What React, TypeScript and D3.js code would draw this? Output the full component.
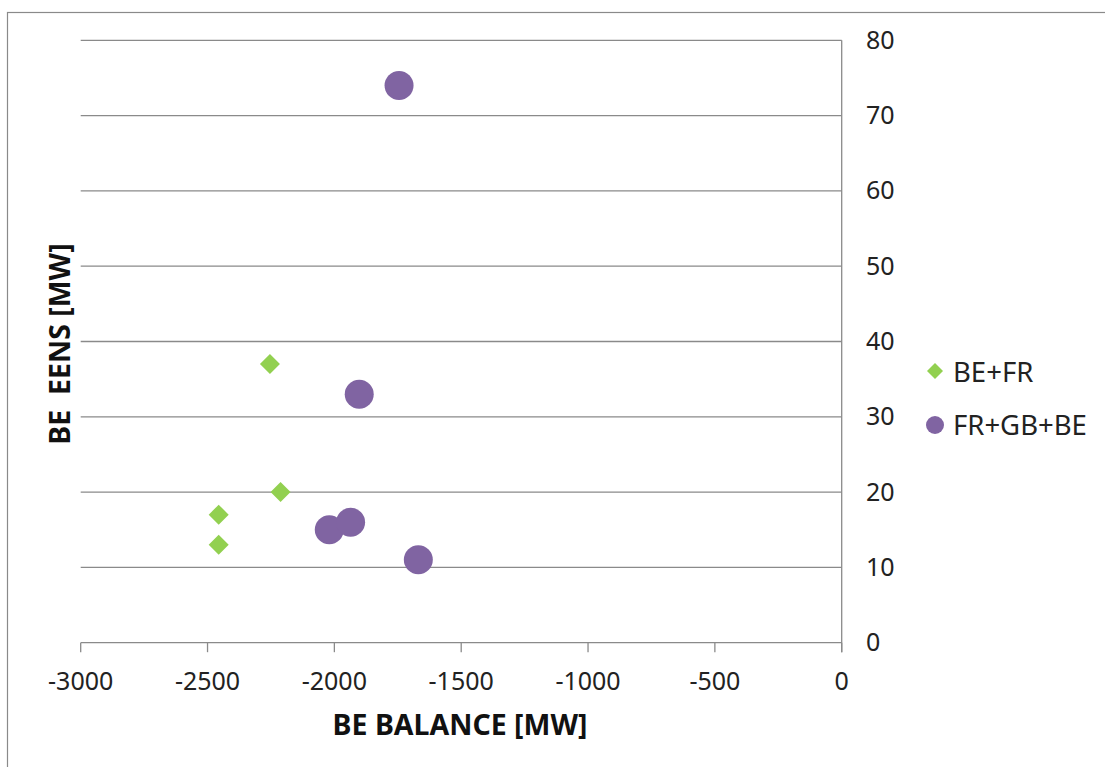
import React from "react";
import * as d3 from "d3";

const xTicks = [-3000, -2500, -2000, -1500, -1000, -500, 0];
const yTicks = [0, 10, 20, 30, 40, 50, 60, 70, 80];

const beFrX = [-2254, -2212, -2456, -2456];
const beFrY = [37, 20, 17, 13];

const frGbBeX = [-1745, -1902, -2020, -1936, -1669];
const frGbBeY = [74, 33, 15, 16, 11];

const seriesNames = ["BE+FR", "FR+GB+BE"];
const seriesColors = ["#92D050", "#8064A2"];

const W = 1105;
const H = 767;
const FONT = "'Noto Sans', sans-serif";

export default function App() {
  const x = d3.scaleLinear().domain([-3000, 0]).range([80.7, 841.7]);
  const y = d3.scaleLinear().domain([0, 80]).range([642.7, 40.3]);

  const diamond = d3.symbol().type(d3.symbolSquare).size(200)() as string;
  const diamondLegend = d3.symbol().type(d3.symbolSquare).size(128)() as string;
  const circle = d3.symbol().type(d3.symbolCircle).size(Math.PI * 14.5 * 14.5)() as string;
  const circleLegend = d3.symbol().type(d3.symbolCircle).size(Math.PI * 9 * 9)() as string;

  const grid = "#8a8a8a";
  const x0 = x(-3000);
  const x1 = x(0);
  const yBase = y(0);

  return (
    <svg
      width={W}
      height={H}
      style={{ position: "absolute", left: 0, top: 0, background: "#fff" }}
      fontFamily={FONT}
    >
      <rect x={0} y={0} width={W} height={H} fill="#fff" />
      <rect x={7.5} y={12.5} width={1120} height={780} fill="none" stroke="#8a8a8a" strokeWidth={1.2} />

      {/* gridlines */}
      {yTicks.filter((t) => t > 0).map((t) => (
        <line key={"g" + t} x1={x0} x2={x1} y1={y(t)} y2={y(t)} stroke={grid} strokeWidth={1.3} />
      ))}

      {/* x axis line + ticks */}
      <line x1={x0} x2={x1} y1={yBase} y2={yBase} stroke={grid} strokeWidth={1.3} />
      {xTicks.map((t) => (
        <line key={"xt" + t} x1={x(t)} x2={x(t)} y1={yBase} y2={yBase + 9.5} stroke={grid} strokeWidth={1.3} />
      ))}
      {/* right y axis line */}
      <line x1={x1} x2={x1} y1={y(80)} y2={yBase + 9.5} stroke={grid} strokeWidth={1.3} />

      {/* x tick labels */}
      {xTicks.map((t) => (
        <text key={"xl" + t} x={x(t)} y={690} textAnchor="middle" fontSize={25} fill="#222">
          {String(t)}
        </text>
      ))}
      {/* y tick labels */}
      {yTicks.map((t) => (
        <text key={"yl" + t} x={866} y={y(t) + 8.5} textAnchor="start" fontSize={25} fill="#222">
          {String(t)}
        </text>
      ))}

      {/* axis titles */}
      <text x={460} y={735} textAnchor="middle" fontSize={28.5} fontWeight="bold" fill="#111">
        BE BALANCE [MW]
      </text>
      <text
        transform="translate(70,344) rotate(-90)"
        textAnchor="middle"
        fontSize={28.5}
        fontWeight="bold"
        fill="#111"
        style={{ whiteSpace: "pre" }}
      >
        {"BE  EENS [MW]"}
      </text>

      {/* series BE+FR */}
      {beFrX.map((v, i) => (
        <path
          key={"d" + i}
          d={diamond}
          transform={`translate(${x(v)},${y(beFrY[i])}) rotate(45)`}
          fill={seriesColors[0]}
        />
      ))}
      {/* series FR+GB+BE */}
      {frGbBeX.map((v, i) => (
        <path
          key={"c" + i}
          d={circle}
          transform={`translate(${x(v)},${y(frGbBeY[i])})`}
          fill={seriesColors[1]}
        />
      ))}

      {/* legend */}
      <path d={diamondLegend} transform="translate(935,371) rotate(45)" fill={seriesColors[0]} />
      <text x={953} y={381.5} fontSize={27.5} fill="#222">
        {seriesNames[0]}
      </text>
      <path d={circleLegend} transform="translate(935,425)" fill={seriesColors[1]} />
      <text x={953} y={435} fontSize={27.5} fill="#222">
        {seriesNames[1]}
      </text>
    </svg>
  );
}
